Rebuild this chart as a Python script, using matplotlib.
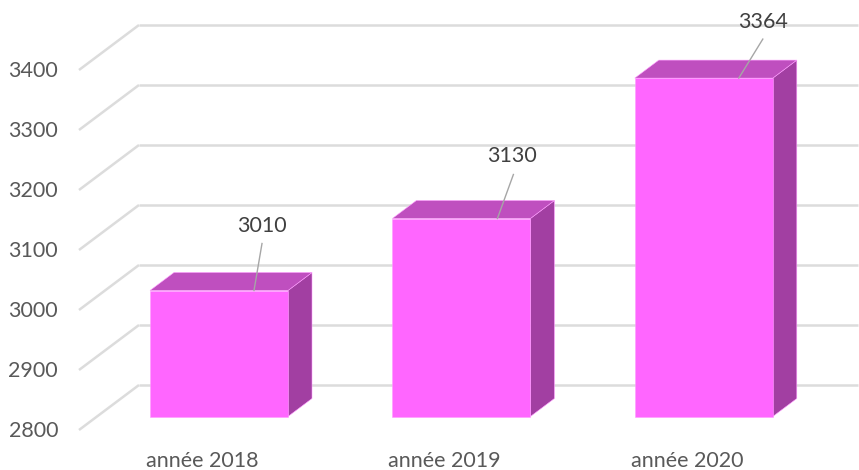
import matplotlib
matplotlib.use("Agg")
import matplotlib.pyplot as plt
from matplotlib.patches import Polygon
from matplotlib.transforms import ScaledTranslation

categories = ["année 2018", "année 2019", "année 2020"]
values = [3010, 3130, 3364]
y_ticks = [2800, 2900, 3000, 3100, 3200, 3300, 3400]

plt.rcParams["font.family"] = ["Lato", "DejaVu Sans"]
DPI = 100
fig = plt.figure(figsize=(8.59, 4.70), dpi=DPI)
ax = fig.add_axes([0, 0, 1, 1])
ax.axis("off")

PX_PER_CAT = 242.4
PX_PER_UNIT = 0.6
ax.set_xlim(-219 / PX_PER_CAT, (859 - 219) / PX_PER_CAT)
ax.set_ylim(2800 - 40 / PX_PER_UNIT, 2800 + 430 / PX_PER_UNIT)


def shift(dx, dy):
    """Data transform moved by a screen offset in pixels (y up)."""
    return ax.transData + ScaledTranslation(dx / DPI, dy / DPI, fig.dpi_scale_trans)


GRID = "#DCDCDC"
TEXT = "#595959"
LABEL = "#404040"
FRONT = "#FF66FF"
TOP = "#BF4FBF"
SIDE = "#A23FA2"
EDGE = "#FF9CFF"
LEADER = "#A6A6A6"
FONT = 15.5

# floor/back wall gridlines in oblique projection
x_front = (79 - 219) / PX_PER_CAT
x_back = (139 - 219) / PX_PER_CAT
x_end = (858 - 219) / PX_PER_CAT
for t in y_ticks:
    ax.plot([x_front, x_back], [t, t + 45 / PX_PER_UNIT],
            color=GRID, lw=1.8, zorder=1, solid_capstyle="butt")
    ax.plot([x_back, x_end], [t + 45 / PX_PER_UNIT] * 2,
            color=GRID, lw=1.8, zorder=1, solid_capstyle="butt")
    ax.text((58 - 219) / PX_PER_CAT, t, str(t), ha="right", va="center",
            color=TEXT, fontsize=FONT, transform=shift(0, -1))

# bars: floor of the front face sits above the 2800 front line
BASE_DY = 13.5
DEPTH_X, DEPTH_Y = 24, 18
HALF = 69 / PX_PER_CAT
baseline = y_ticks[0]

for i, (cat, v) in enumerate(zip(categories, values)):
    l, r = i - HALF, i + HALF
    front = shift(0, BASE_DY)
    dxc = DEPTH_X / PX_PER_CAT
    dyc = DEPTH_Y / PX_PER_UNIT
    ax.add_patch(Polygon([(r, baseline), (r + dxc, baseline + dyc), (r + dxc, v + dyc), (r, v)],
                         closed=True, fc=SIDE, ec=EDGE, lw=0.4, zorder=3, transform=front))
    ax.add_patch(Polygon([(l, v), (r, v), (r + dxc, v + dyc), (l + dxc, v + dyc)],
                         closed=True, fc=TOP, ec=EDGE, lw=0.4, zorder=3, transform=front))
    ax.add_patch(Polygon([(l, baseline), (r, baseline), (r, v), (l, v)],
                         closed=True, fc=FRONT, ec=EDGE, lw=0.4, zorder=4, transform=front))
    ax.text(i, baseline, cat, ha="center", va="center", color=TEXT,
            fontsize=FONT, transform=shift(-17, -31))

# data labels with leader lines, anchored on each bar's top front edge
label_offsets = [(43, 65), (51, 62), (59, 56)]
leader_starts = [35, 36, 35]
leader_ends = [(43, 47), (52, 44), (59, 39)]
for i, v in enumerate(values):
    ex, ey = leader_ends[i]
    ax.plot([i + leader_starts[i] / PX_PER_CAT, i + ex / PX_PER_CAT], [v, v + ey / PX_PER_UNIT],
            color=LEADER, lw=1.0, zorder=5, transform=shift(0, BASE_DY))
    ox, oy = label_offsets[i]
    ax.text(i, v, str(v), ha="center", va="center", color=LABEL, fontsize=FONT,
            zorder=6, transform=shift(ox, BASE_DY + oy))

fig.savefig("out.png", dpi=DPI, facecolor="white")
